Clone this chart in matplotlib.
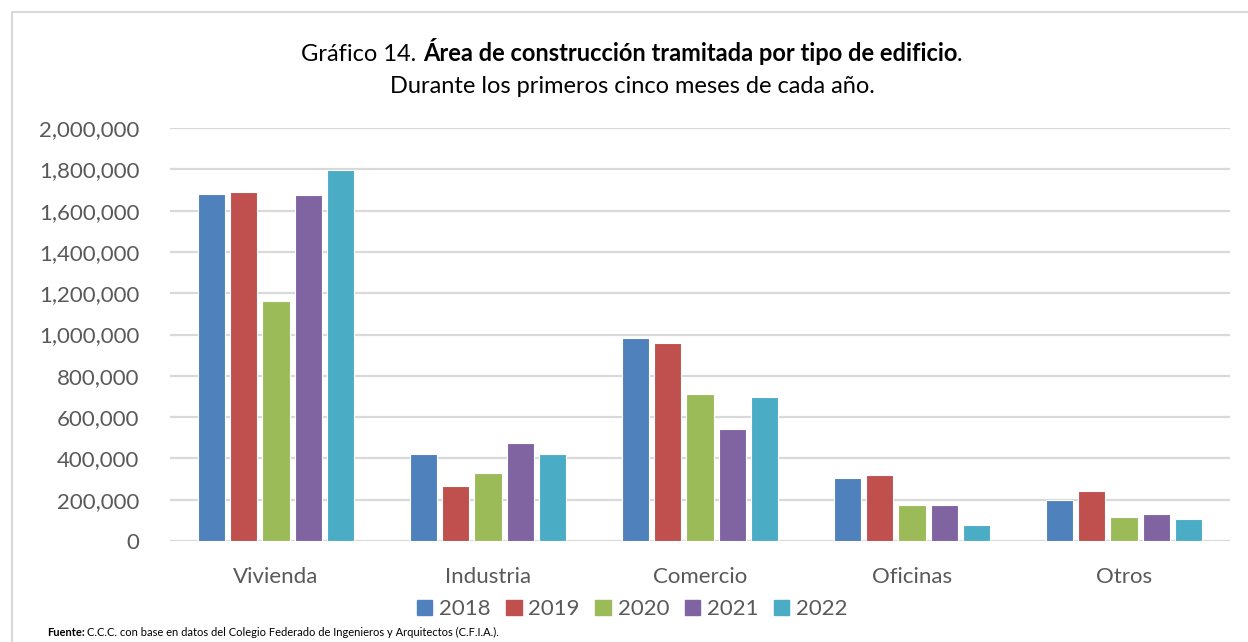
import numpy as np
import matplotlib.pyplot as plt
from matplotlib.lines import Line2D

plt.rcParams['font.family'] = ['Lato', 'DejaVu Sans']

categories = ['Vivienda', 'Industria', 'Comercio', 'Oficinas', 'Otros']
years = ['2018', '2019', '2020', '2021', '2022']
colors = ['#4f81bd', '#c0504d', '#9bbb59', '#8064a2', '#4bacc6']

v2018 = [1682000, 420000, 985000, 306000, 199000]
v2019 = [1689000, 267000, 959000, 318000, 243000]
v2020 = [1161000, 330000, 714000, 175000, 118000]
v2021 = [1678000, 474000, 544000, 174000, 131000]
v2022 = [1798000, 422000, 698000, 78000, 106000]
series = [v2018, v2019, v2020, v2021, v2022]

fig = plt.figure(figsize=(12.48, 6.42), dpi=100)
ax = fig.add_axes([0.1362, 0.1573, 0.8494, 0.6433])

x = np.arange(len(categories))
slot = 0.153
for i, (vals, c, yr) in enumerate(zip(series, colors, years)):
    ax.bar(x + (i - 2) * slot, vals, width=0.128, color=c, edgecolor='white',
           linewidth=0.8, label=yr, zorder=3)

ax.set_xlim(-0.5, len(categories) - 0.5)
ax.set_ylim(0, 2000000)
ax.set_yticks(np.arange(0, 2000001, 200000))
ax.yaxis.set_major_formatter(plt.FuncFormatter(lambda v, p: f'{int(v):,}'))
ax.grid(axis='y', color='#d9d9d9', linewidth=1.6, zorder=0)
for s in ax.spines.values():
    s.set_visible(False)
ax.tick_params(axis='both', length=0, labelsize=16, labelcolor='#595959')
ax.tick_params(axis='y', pad=22)
ax.tick_params(axis='x', pad=19)
ax.set_xticks(x)
ax.set_xticklabels(categories)

# title: normal + bold + normal, centred as one line
W = fig.bbox.width
parts = [('Gráfico 14. ', 'normal'),
         ('Área de construcción tramitada por tipo de edificio', 'bold'),
         ('.', 'normal')]
texts = [fig.text(0, 0.905, s, fontsize=17, fontweight=w, ha='left', va='baseline')
         for s, w in parts]
fig.canvas.draw()
r = fig.canvas.get_renderer()
widths = [t.get_window_extent(r).width for t in texts]
xpos = 0.5065 * W - sum(widths) / 2
for t, w in zip(texts, widths):
    t.set_x(xpos / W)
    xpos += w
fig.text(0.5065, 0.855, 'Durante los primeros cinco meses de cada año.',
         fontsize=17, ha='center', va='baseline')

handles = [plt.Rectangle((0, 0), 1, 1, color=c) for c in colors]
fig.legend(handles, years, loc='center', bbox_to_anchor=(0.5065, 0.051), ncol=5,
           frameon=False, fontsize=16, handlelength=0.7, handleheight=0.7,
           handletextpad=0.3, columnspacing=0.7, labelcolor='#595959')

f1 = fig.text(0.0377, 0.009, 'Fuente:', fontsize=8, fontweight='bold', ha='left', va='baseline')
fig.canvas.draw()
fx = f1.get_window_extent(r).x1 / W
fig.text(fx + 0.002, 0.009,
         'C.C.C. con base en datos del Colegio Federado de Ingenieros y Arquitectos (C.F.I.A.).',
         fontsize=8, ha='left', va='baseline')

fig.add_artist(Line2D([12 / 1248, 1], [1 - 12 / 642] * 2, color='#d9d9d9', linewidth=1.5))
fig.add_artist(Line2D([12 / 1248] * 2, [0, 1 - 12 / 642], color='#d9d9d9', linewidth=1.5))

fig.savefig('out.png', dpi=100)
